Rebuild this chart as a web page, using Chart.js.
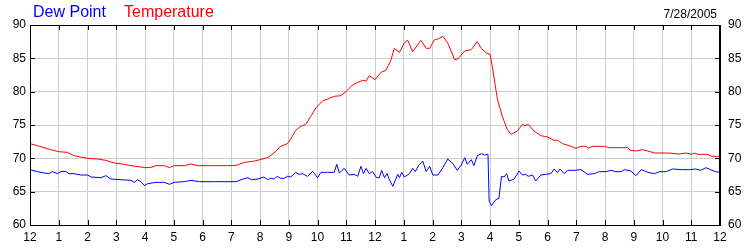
<!DOCTYPE html>
<html>
<head>
<meta charset="utf-8">
<script src="https://cdn.jsdelivr.net/npm/chart.js@4/dist/chart.umd.min.js"></script>
<style>
  body { margin: 0; background: #fff; }
  #wrap { position: relative; width: 750px; height: 250px; font-family: "Liberation Sans", Arial, sans-serif; }
  #grafico { position: absolute; left: 0; top: 0; }
  .leyenda { position: absolute; top: 3px; font-size: 16px; white-space: nowrap; }
  #fecha { position: absolute; top: 7px; right: 33px; font-size: 12px; color: #000; }
</style>
</head>
<body>
<div id="wrap">
  <canvas id="grafico" width="750" height="250"></canvas>
  <span class="leyenda" style="left:33px;color:#0000ff">Dew Point</span>
  <span class="leyenda" style="left:124px;color:#ff0000">Temperature</span>
  <span id="fecha">7/28/2005</span>
</div>
<script>
const hourLabels = ["12","1","2","3","4","5","6","7","8","9","10","11","12","1","2","3","4","5","6","7","8","9","10","11","12"];
const yTicks = [60, 65, 70, 75, 80, 85, 90];

// hours since midnight, temperature in F
const tempHours = [0,0.26,0.49,0.72,1.0,1.3,1.53,1.77,2.0,2.35,2.64,2.93,3.22,3.51,3.86,4.0,4.21,4.38,4.67,4.85,5.02,5.37,5.6,5.84,6.42,6.88,7.17,7.47,7.81,8.0,8.26,8.49,8.72,8.95,9.07,9.24,9.42,9.59,9.77,9.94,10.17,10.35,10.58,10.81,10.99,11.22,11.4,11.57,11.69,11.8,12.0,12.21,12.38,12.56,12.67,12.85,13.02,13.14,13.31,13.6,13.78,13.9,14.07,14.19,14.36,14.53,14.77,14.88,15.12,15.35,15.55,15.7,15.87,16.0,16.08,16.26,16.43,16.6,16.74,16.95,17.13,17.22,17.33,17.53,17.77,18.0,18.23,18.35,18.52,18.76,18.99,19.16,19.34,19.42,19.57,19.98,20.15,20.56,20.79,20.88,21.08,21.31,21.49,21.72,21.95,22.19,22.59,22.83,23.0,23.12,23.23,23.58,23.7,24.0];
const tempF = [72.2,71.9,71.6,71.3,71.0,70.9,70.4,70.2,70.0,69.9,69.7,69.3,69.15,68.9,68.7,68.6,68.65,68.9,68.9,68.6,68.9,68.9,69.15,68.9,68.9,68.9,68.95,69.4,69.6,69.8,70.1,70.8,71.8,72.2,72.9,74.2,74.8,75.1,76.3,77.55,78.6,78.9,79.3,79.4,80.0,81.0,81.4,81.7,81.6,82.4,81.8,82.9,83.2,84.8,86.5,85.9,87.3,87.7,86.0,87.7,86.5,86.5,87.8,87.9,88.3,87.3,84.8,84.9,86.1,86.3,87.5,86.5,85.8,85.6,83.8,78.8,76.3,74.3,73.6,74.1,75.1,74.9,75.1,74.1,73.4,73.2,72.7,72.7,72.2,71.9,71.5,71.8,71.8,71.5,71.8,71.8,71.6,71.6,71.6,71.2,71.1,71.3,71.1,70.8,70.8,70.8,70.65,70.8,70.6,70.8,70.6,70.6,70.3,70.3];

const dewHours = [0,0.26,0.49,0.66,0.78,0.95,1.07,1.24,1.36,1.53,1.77,2.01,2.12,2.47,2.64,2.81,3.16,3.51,3.63,3.74,3.86,3.98,4.09,4.38,4.67,4.85,5.02,5.37,5.6,5.9,6.42,7.17,7.41,7.58,7.7,7.93,8.0,8.14,8.26,8.37,8.49,8.6,8.72,8.84,8.95,9.07,9.24,9.36,9.48,9.65,9.83,10.0,10.12,10.35,10.58,10.67,10.76,10.93,11.1,11.28,11.4,11.51,11.6,11.69,11.8,11.92,12.05,12.15,12.23,12.33,12.42,12.5,12.62,12.79,12.85,12.93,13.02,13.2,13.31,13.4,13.51,13.66,13.78,13.9,14.01,14.19,14.36,14.53,14.71,14.86,15.0,15.12,15.21,15.35,15.44,15.56,15.7,15.81,15.93,15.97,16.05,16.2,16.31,16.4,16.49,16.58,16.66,16.84,17.01,17.13,17.24,17.33,17.48,17.59,17.77,17.94,18.12,18.23,18.35,18.44,18.58,18.7,18.93,19.16,19.4,19.63,19.8,20.03,20.21,20.38,20.56,20.67,20.9,21.08,21.26,21.49,21.72,21.9,22.13,22.35,22.7,22.93,23.16,23.33,23.51,23.67,23.84,24.0];
const dewF = [68.3,68.0,67.8,67.7,68.0,67.7,68.0,68.05,67.7,67.7,67.5,67.5,67.2,67.1,67.4,66.9,66.8,66.7,66.4,66.8,66.5,65.9,66.2,66.4,66.4,66.1,66.4,66.5,66.7,66.5,66.5,66.5,66.9,67.1,66.8,66.9,67.0,67.2,66.8,67.0,66.9,67.3,67.0,67.0,67.3,67.2,67.9,67.6,67.7,67.3,68.05,67.1,67.9,67.9,67.9,69.1,67.8,68.5,67.5,67.6,67.3,68.8,67.7,68.5,67.7,68.0,67.1,67.1,68.2,67.1,67.7,66.8,65.8,67.6,67.1,67.9,67.2,67.7,68.5,68.0,68.9,69.6,68.0,68.8,67.5,67.5,68.6,69.9,69.2,68.2,69.0,70.1,69.1,69.8,68.9,70.4,70.7,70.5,70.6,63.6,62.9,63.8,64.0,67.3,67.2,67.7,66.6,66.9,68.1,67.5,67.6,67.3,67.5,66.6,67.5,67.6,67.7,68.4,67.9,68.4,67.7,68.2,68.2,68.3,67.6,67.7,68.0,68.0,68.2,68.0,68.0,68.3,68.1,67.4,68.3,67.9,67.7,68.0,68.0,68.4,68.3,68.3,68.4,68.2,68.6,68.3,68.0,67.9];

const fuente = { family: "'Liberation Sans', Arial, sans-serif", size: 12 };

function puntos(xs, ys) {
  return xs.map((h, i) => ({ x: h, y: ys[i] }));
}

// marco negro y marcas hacia dentro
const marcoPlugin = {
  id: "marco",
  afterDraw(chart) {
    const { ctx, chartArea: a, scales } = chart;
    ctx.save();
    ctx.strokeStyle = "#000";
    ctx.lineWidth = 1;
    ctx.beginPath();
    scales.x.ticks.forEach((t, i) => {
      const px = Math.round(scales.x.getPixelForTick(i)) + 0.5;
      ctx.moveTo(px, a.bottom);
      ctx.lineTo(px, a.bottom - 5);
      ctx.moveTo(px, a.top);
      ctx.lineTo(px, a.top + 5);
    });
    scales.y.ticks.forEach((t, i) => {
      const py = Math.round(scales.y.getPixelForTick(i)) + 0.5;
      ctx.moveTo(a.left, py);
      ctx.lineTo(a.left + 5, py);
      ctx.moveTo(a.right, py);
      ctx.lineTo(a.right - 5, py);
    });
    ctx.stroke();
    ctx.strokeRect(Math.round(a.left) + 0.5, Math.round(a.top) + 0.5,
      Math.round(a.right - a.left) - 1, Math.round(a.bottom - a.top));
    ctx.restore();
  },
};

new Chart(document.getElementById("grafico").getContext("2d"), {
  type: "line",
  data: {
    datasets: [
      {
        label: "Temperature",
        data: puntos(tempHours, tempF),
        borderColor: "#ff0000",
        borderWidth: 1,
        pointRadius: 0,
        tension: 0,
      },
      {
        label: "Dew Point",
        data: puntos(dewHours, dewF),
        borderColor: "#0000ff",
        borderWidth: 1,
        pointRadius: 0,
        tension: 0,
      },
    ],
  },
  options: {
    responsive: false,
    animation: false,
    events: [],
    layout: { padding: { top: 25, left: 0, right: 0, bottom: 0 } },
    plugins: { legend: { display: false }, tooltip: { enabled: false } },
    scales: {
      x: {
        type: "linear",
        min: 0,
        max: 24,
        afterFit(s) { s.height = 25; },
        afterBuildTicks(s) { s.ticks = hourLabels.map((_, i) => ({ value: i })); },
        ticks: {
          autoSkip: false,
          maxRotation: 0,
          padding: 5,
          color: "#000",
          font: fuente,
          callback: (v) => hourLabels[v],
        },
        grid: { color: "#cccccc", drawTicks: false },
        border: { color: "#000" },
      },
      y: {
        position: "left",
        min: 60,
        max: 90,
        afterFit(s) { s.width = 30; },
        afterBuildTicks(s) { s.ticks = yTicks.map((v) => ({ value: v })); },
        ticks: { padding: 4, color: "#000", font: fuente },
        grid: { color: "#cccccc", drawTicks: false },
        border: { color: "#000" },
      },
      y2: {
        position: "right",
        min: 60,
        max: 90,
        afterFit(s) { s.width = 30; },
        afterBuildTicks(s) { s.ticks = yTicks.map((v) => ({ value: v })); },
        ticks: { padding: 8, color: "#000", font: fuente },
        grid: { drawOnChartArea: false, drawTicks: false },
        border: { color: "#000" },
      },
    },
  },
  plugins: [marcoPlugin],
});
</script>
</body>
</html>
